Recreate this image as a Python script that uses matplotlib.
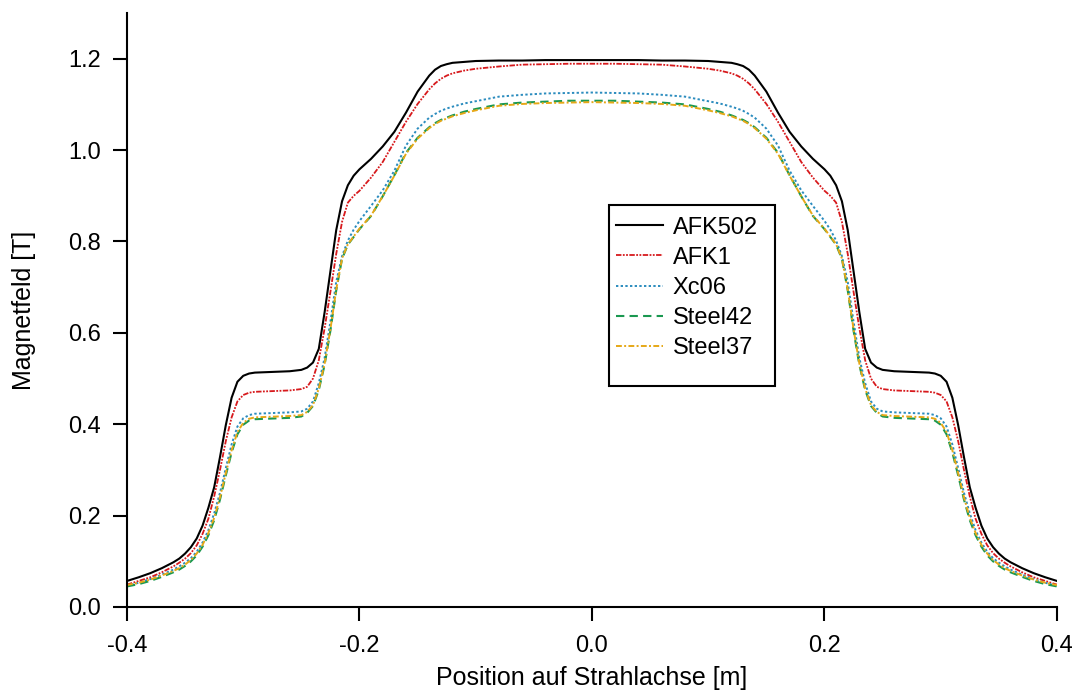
import matplotlib
matplotlib.use("Agg")
import matplotlib.pyplot as plt
from matplotlib.patches import Rectangle

plt.rcParams['font.family'] = ['Liberation Sans', 'DejaVu Sans']

position = [-0.40, -0.39, -0.38, -0.37, -0.36, -0.355, -0.35, -0.345, -0.34, -0.335,
            -0.33, -0.325, -0.32, -0.315, -0.31, -0.305, -0.30, -0.295, -0.29, -0.28,
            -0.27, -0.26, -0.25, -0.245, -0.24, -0.235, -0.23, -0.225, -0.22, -0.215,
            -0.21, -0.205, -0.20, -0.19, -0.18, -0.17, -0.16, -0.15, -0.14, -0.135,
            -0.13, -0.125, -0.12, -0.11, -0.10, -0.08, -0.06, -0.04, -0.02, 0.0,
            0.02, 0.04, 0.06, 0.08, 0.10, 0.11, 0.12, 0.125, 0.13, 0.135,
            0.14, 0.15, 0.16, 0.17, 0.18, 0.19, 0.20, 0.205, 0.21, 0.215,
            0.22, 0.225, 0.23, 0.235, 0.24, 0.245, 0.25, 0.26, 0.27, 0.28,
            0.29, 0.295, 0.30, 0.305, 0.31, 0.315, 0.32, 0.325, 0.33, 0.335,
            0.34, 0.345, 0.35, 0.355, 0.36, 0.37, 0.38, 0.39, 0.40]

afk502 = [0.057, 0.065, 0.074, 0.085, 0.098, 0.106, 0.117, 0.131, 0.150, 0.178,
          0.217, 0.262, 0.328, 0.398, 0.458, 0.493, 0.506, 0.511, 0.513, 0.514,
          0.515, 0.516, 0.519, 0.524, 0.535, 0.565, 0.645, 0.735, 0.825, 0.888,
          0.923, 0.944, 0.958, 0.981, 1.008, 1.040, 1.082, 1.128, 1.163, 1.176,
          1.184, 1.188, 1.191, 1.193, 1.195, 1.196, 1.196, 1.197, 1.197, 1.197,
          1.197, 1.197, 1.196, 1.196, 1.195, 1.193, 1.191, 1.188, 1.184, 1.176,
          1.163, 1.128, 1.082, 1.040, 1.008, 0.981, 0.958, 0.944, 0.923, 0.888,
          0.825, 0.735, 0.645, 0.565, 0.535, 0.524, 0.519, 0.516, 0.515, 0.514,
          0.513, 0.511, 0.506, 0.493, 0.458, 0.398, 0.328, 0.262, 0.217, 0.178,
          0.150, 0.131, 0.117, 0.106, 0.098, 0.085, 0.074, 0.065, 0.057]

afk1 = [0.049, 0.057, 0.065, 0.076, 0.089, 0.097, 0.106, 0.118, 0.135, 0.160,
        0.193, 0.242, 0.300, 0.363, 0.415, 0.450, 0.464, 0.469, 0.471, 0.472,
        0.473, 0.474, 0.477, 0.482, 0.500, 0.540, 0.610, 0.690, 0.773, 0.843,
        0.885, 0.900, 0.911, 0.940, 0.974, 1.018, 1.062, 1.101, 1.133, 1.146,
        1.156, 1.163, 1.168, 1.174, 1.178, 1.183, 1.187, 1.188, 1.189, 1.189,
        1.189, 1.188, 1.187, 1.183, 1.178, 1.174, 1.168, 1.163, 1.156, 1.146,
        1.133, 1.101, 1.062, 1.018, 0.974, 0.940, 0.911, 0.900, 0.885, 0.843,
        0.773, 0.690, 0.610, 0.540, 0.500, 0.482, 0.477, 0.474, 0.473, 0.472,
        0.471, 0.469, 0.464, 0.450, 0.415, 0.363, 0.300, 0.242, 0.193, 0.160,
        0.135, 0.118, 0.106, 0.097, 0.089, 0.076, 0.065, 0.057, 0.049]

xc06 = [0.046, 0.053, 0.061, 0.071, 0.082, 0.089, 0.097, 0.107, 0.121, 0.141,
        0.168, 0.205, 0.250, 0.304, 0.356, 0.395, 0.413, 0.420, 0.423, 0.424,
        0.425, 0.426, 0.428, 0.434, 0.450, 0.490, 0.545, 0.625, 0.712, 0.768,
        0.802, 0.826, 0.845, 0.878, 0.912, 0.955, 1.010, 1.047, 1.071, 1.079,
        1.086, 1.091, 1.095, 1.102, 1.107, 1.117, 1.121, 1.124, 1.125, 1.126,
        1.125, 1.124, 1.121, 1.117, 1.107, 1.102, 1.095, 1.091, 1.086, 1.079,
        1.071, 1.047, 1.010, 0.955, 0.912, 0.878, 0.845, 0.826, 0.802, 0.768,
        0.712, 0.625, 0.545, 0.490, 0.450, 0.434, 0.428, 0.426, 0.425, 0.424,
        0.423, 0.420, 0.413, 0.395, 0.356, 0.304, 0.250, 0.205, 0.168, 0.141,
        0.121, 0.107, 0.097, 0.089, 0.082, 0.071, 0.061, 0.053, 0.046]

steel42 = [0.045, 0.050, 0.057, 0.066, 0.076, 0.082, 0.090, 0.100, 0.113, 0.132,
           0.157, 0.190, 0.235, 0.288, 0.338, 0.378, 0.399, 0.408, 0.411, 0.412,
           0.413, 0.414, 0.417, 0.425, 0.440, 0.475, 0.530, 0.605, 0.693, 0.762,
           0.793, 0.810, 0.827, 0.856, 0.899, 0.945, 0.994, 1.027, 1.050, 1.059,
           1.066, 1.071, 1.076, 1.084, 1.090, 1.100, 1.104, 1.106, 1.108, 1.108,
           1.108, 1.106, 1.104, 1.100, 1.090, 1.084, 1.076, 1.071, 1.066, 1.059,
           1.050, 1.027, 0.994, 0.945, 0.899, 0.856, 0.827, 0.810, 0.793, 0.762,
           0.693, 0.605, 0.530, 0.475, 0.440, 0.425, 0.417, 0.414, 0.413, 0.412,
           0.411, 0.408, 0.399, 0.378, 0.338, 0.288, 0.235, 0.190, 0.157, 0.132,
           0.113, 0.100, 0.090, 0.082, 0.076, 0.066, 0.057, 0.050, 0.045]

steel37 = [0.048, 0.053, 0.060, 0.069, 0.079, 0.085, 0.093, 0.103, 0.117, 0.136,
           0.162, 0.195, 0.240, 0.293, 0.343, 0.383, 0.403, 0.412, 0.415, 0.416,
           0.417, 0.418, 0.420, 0.427, 0.442, 0.478, 0.533, 0.608, 0.695, 0.763,
           0.794, 0.811, 0.828, 0.857, 0.899, 0.944, 0.992, 1.025, 1.048, 1.057,
           1.064, 1.069, 1.074, 1.081, 1.087, 1.097, 1.101, 1.103, 1.104, 1.105,
           1.104, 1.103, 1.101, 1.097, 1.087, 1.081, 1.074, 1.069, 1.064, 1.057,
           1.048, 1.025, 0.992, 0.944, 0.899, 0.857, 0.828, 0.811, 0.794, 0.763,
           0.695, 0.608, 0.533, 0.478, 0.442, 0.427, 0.420, 0.418, 0.417, 0.416,
           0.415, 0.412, 0.403, 0.383, 0.343, 0.293, 0.240, 0.195, 0.162, 0.136,
           0.117, 0.103, 0.093, 0.085, 0.079, 0.069, 0.060, 0.053, 0.048]

labels = ["AFK502", "AFK1", "Xc06", "Steel42", "Steel37"]
series = [afk502, afk1, xc06, steel42, steel37]
xticks = [-0.4, -0.2, 0.0, 0.2, 0.4]
xticklabels = ["-0.4", "-0.2", "0.0", "0.2", "0.4"]
yticks = [0.0, 0.2, 0.4, 0.6, 0.8, 1.0, 1.2]
yticklabels = ["0.0", "0.2", "0.4", "0.6", "0.8", "1.0", "1.2"]

colors = ["#000000", "#d7191c", "#2b8cbe", "#1a9850", "#e6a817"]
styles = ["-", (0, (3, 0.8, 1, 0.8, 1, 0.8)), (0, (1.2, 1.2)), (0, (4, 2.5)),
          (0, (3, 1.2, 1, 1.2))]
widths = [1.5, 1.3, 1.4, 1.5, 1.4]

fig = plt.figure(figsize=(10.78, 6.93), dpi=100)
ax = fig.add_axes([0.1178, 0.1241, 0.8627, 0.8571])

for y, lab, c, ls, lw in zip(series, labels, colors, styles, widths):
    ax.plot(position, y, color=c, linestyle=ls, linewidth=lw, label=lab)

ax.set_xlim(-0.4, 0.4)
ax.set_ylim(0.0, 1.3)
ax.set_xticks(xticks)
ax.set_xticklabels(xticklabels)
ax.set_yticks(yticks)
ax.set_yticklabels(yticklabels)

for s in ["top", "right"]:
    ax.spines[s].set_visible(False)
for s in ["left", "bottom"]:
    ax.spines[s].set_linewidth(1.5)

ax.tick_params(axis="both", direction="out", length=10, width=1.5, labelsize=17)
ax.tick_params(axis="x", pad=10)
ax.tick_params(axis="y", pad=9)

ax.set_xlabel("Position auf Strahlachse [m]", fontsize=18)
ax.set_ylabel("Magnetfeld [T]", fontsize=18)
ax.xaxis.set_label_coords(0.5, -(678 - 607) / 594)
ax.xaxis.label.set_va("center")
ax.yaxis.set_label_coords(-(127 - 24) / 930, 0.5)
ax.yaxis.label.set_va("center")

leg = ax.legend(loc="upper left", bbox_to_anchor=(611 / 1078, 1 - 212 / 693),
                bbox_transform=fig.transFigure, frameon=False, fontsize=17,
                handlelength=2.0, handletextpad=0.42, labelspacing=0.34,
                borderpad=0.2, borderaxespad=0)

fig.patches.append(Rectangle((609 / 1078, 1 - 386 / 693), (775 - 609) / 1078,
                             (386 - 205) / 693, transform=fig.transFigure,
                             fill=False, edgecolor="black", linewidth=1.5))

fig.savefig("out.png", dpi=100)
